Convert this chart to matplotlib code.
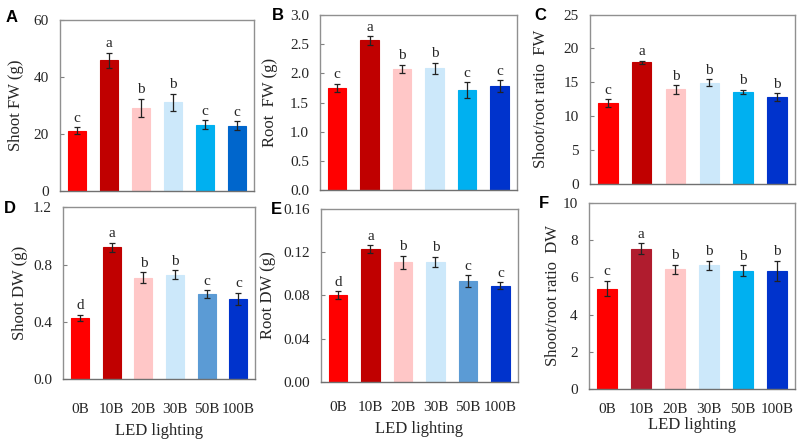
import numpy as np
import matplotlib.pyplot as plt

treatments = ['0B', '10B', '20B', '30B', '50B', '100B']

shoot_fw = [21.2, 45.8, 29.2, 31.1, 23.3, 22.9]
shoot_fw_err = [1.2, 2.7, 3.2, 2.9, 1.5, 1.5]
shoot_fw_sig = ['c', 'a', 'b', 'b', 'c', 'c']

root_fw = [1.755, 2.565, 2.08, 2.09, 1.715, 1.78]
root_fw_err = [0.07, 0.07, 0.065, 0.095, 0.13, 0.10]
root_fw_sig = ['c', 'a', 'b', 'b', 'c', 'c']

ratio_fw = [11.93, 17.95, 13.95, 14.94, 13.56, 12.77]
ratio_fw_err = [0.55, 0.25, 0.64, 0.5, 0.3, 0.6]
ratio_fw_sig = ['c', 'a', 'b', 'b', 'b', 'b']

shoot_dw = [0.430, 0.921, 0.709, 0.730, 0.593, 0.560]
shoot_dw_err = [0.021, 0.031, 0.036, 0.031, 0.027, 0.044]
shoot_dw_sig = ['d', 'a', 'b', 'b', 'c', 'c']

root_dw = [0.080, 0.1228, 0.1105, 0.1108, 0.0929, 0.0889]
root_dw_err = [0.0035, 0.0034, 0.0058, 0.0048, 0.0054, 0.0032]
root_dw_sig = ['d', 'a', 'b', 'b', 'c', 'c']

ratio_dw = [5.39, 7.54, 6.44, 6.64, 6.35, 6.35]
ratio_dw_err = [0.41, 0.28, 0.24, 0.25, 0.29, 0.54]
ratio_dw_sig = ['c', 'a', 'b', 'b', 'b', 'b']

col_a = ['#ff0000', '#c00000', '#ffc7c7', '#cce8fa', '#00b0f0', '#0066cc']
col_b = ['#ff0000', '#c00000', '#ffc7c7', '#cce8fa', '#00b0f0', '#0033cc']
col_d = ['#ff0000', '#c00000', '#ffc7c7', '#cce8fa', '#5b9bd5', '#0033cc']
col_f = ['#ff0000', '#b01c2e', '#ffc7c7', '#cce8fa', '#00b0f0', '#0033cc']

plt.rcParams['font.family'] = ['Liberation Serif', 'DejaVu Serif']
txt = '#262626'

fig = plt.figure(figsize=(8, 4.44), dpi=100)

# tag, axes box, values, errors, letters, colours, ylim, yticks, fmt, ylabel,
# x tick pad / xlabel pad (None = top row), panel letter xy, ylabel x (pixels)
panels = [
	('A', [0.075, 0.570, 0.2425, 0.385], shoot_fw, shoot_fw_err, shoot_fw_sig, col_a,
	 (0, 60), [0, 20, 40, 60], '%d', 'Shoot FW (g)', None, (12, 18), 16),
	('B', [0.400, 0.572, 0.246, 0.394], root_fw, root_fw_err, root_fw_sig, col_b,
	 (0, 3.0), np.arange(0, 3.01, 0.5), '%.1f', 'Root  FW (g)', None, (278, 16), 270),
	('C', [0.7375, 0.586, 0.256, 0.381], ratio_fw, ratio_fw_err, ratio_fw_sig, col_b,
	 (0, 25), [0, 5, 10, 15, 20, 25], '%d', 'Shoot/root ratio  FW', None, (540, 15), 541),
	('D', [0.079, 0.146, 0.240, 0.387], shoot_dw, shoot_dw_err, shoot_dw_sig, col_d,
	 (0, 1.2), [0, 0.4, 0.8, 1.2], '%.1f', 'Shoot DW (g)', (17, 5), (10, 208), 20),
	('E', [0.401, 0.140, 0.246, 0.390], root_dw, root_dw_err, root_dw_sig, col_d,
	 (0, 0.16), [0, 0.04, 0.08, 0.12, 0.16], '%.2f', 'Root DW (g)', (14, 5), (276, 209), 268),
	('F', [0.736, 0.124, 0.258, 0.419], ratio_dw, ratio_dw_err, ratio_dw_sig, col_f,
	 (0, 10), [0, 2, 4, 6, 8, 10], '%d', 'Shoot/root ratio  DW', (10, 1), (544, 204), 553),
]

x = np.arange(len(treatments))
for (tag, pos, vals, errs, sig, cols, ylim, yt, fmt, ylab, pads, tagxy, ylx) in panels:
	ax = fig.add_axes(pos)
	ax.bar(x, vals, width=0.57, color=cols, edgecolor=cols, linewidth=0.8)
	ax.errorbar(x, vals, yerr=errs, fmt='none', ecolor='#222222', elinewidth=0.9,
				capsize=2, capthick=0.9)
	off = (ylim[1] - ylim[0]) * 0.015
	for xi, v, e, s in zip(x, vals, errs, sig):
		ax.text(xi, v + e + off, s, ha='center', va='bottom', fontsize=11, color=txt)
	ax.set_xlim(-0.53, 5.53)
	ax.set_ylim(*ylim)
	ax.set_yticks(yt)
	ax.set_yticklabels([fmt % t for t in yt], fontsize=11, color=txt)
	ax.tick_params(axis='y', direction='in', length=3, color='#808080', pad=8)
	ax.tick_params(axis='x', length=0)
	for sp in ax.spines.values():
		sp.set_color('#909090')
		sp.set_linewidth(1.0)
	ax.spines['bottom'].set_color('#707070')
	if pads:
		ax.set_xticks(x)
		ax.set_xticklabels(treatments, fontsize=11, color=txt)
		ax.tick_params(axis='x', pad=pads[0])
		ax.set_xlabel('LED lighting', fontsize=12, labelpad=pads[1], color=txt)
	else:
		ax.set_xticks([])
	fig.text(ylx / 800, (pos[1] + pos[3] / 2), ylab, rotation=90, ha='center',
			 va='center', fontsize=12, color=txt)
	fig.text(tagxy[0] / 800, 1 - tagxy[1] / 444, tag, family='Liberation Sans',
			 fontweight='bold', fontsize=12, ha='center', va='center')

fig.savefig('out.png', dpi=100)
